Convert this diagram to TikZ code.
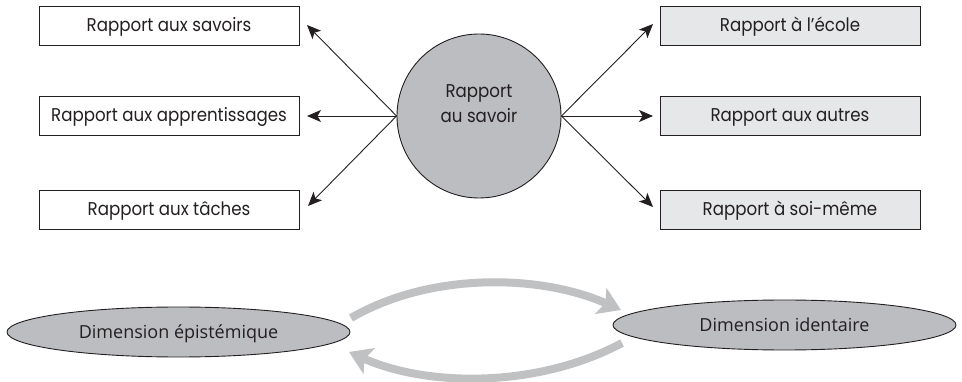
\documentclass[tikz,border=0pt]{standalone}
\usepackage{fontspec}
\setmainfont[FakeStretch=0.9]{Poppins}
\newfontfamily\dimfont{Open Sans}
\usetikzlibrary{arrows.meta,shapes.geometric}
\definecolor{ink}{HTML}{231F20}
\definecolor{hubgray}{HTML}{BCBDC0}
\definecolor{boxgray}{HTML}{E6E7E8}
\definecolor{arcgray}{HTML}{C0C1C3}
\tikzset{
  relbox/.style={draw=ink, line width=0.9pt, minimum width=260pt, minimum height=39pt,
    inner sep=0pt, text height=13pt, text depth=0pt,
    font=\fontsize{18.5}{22}\selectfont, text=ink},
  selfbox/.style={relbox, fill=boxgray},
  hub/.style={circle, draw=ink, line width=0.9pt, fill=hubgray, minimum size=164pt, inner sep=0pt},
  dimension/.style={ellipse, draw=ink, line width=0.9pt, fill=hubgray, minimum width=343pt,
    minimum height=50pt, inner sep=0pt, text height=13pt, text depth=0pt,
    font=\dimfont\fontsize{18}{22}\selectfont, text=ink},
  link/.style={draw=ink, line width=0.9pt, -{Stealth[length=14pt,width=12pt,inset=3.5pt]}},
  cycle/.style={draw=arcgray, line width=8pt, -{Stealth[length=22pt,width=28pt,inset=5pt]}}
}
\begin{document}
\begin{tikzpicture}[x=1pt,y=-1pt]
  \useasboundingbox (0,0) rectangle (962,382);

  % central hub
  \node[hub] (hub) at (479,116) {};
  \node[align=center, font=\fontsize{18.5}{25}\selectfont, text=ink, inner sep=0pt] (hubtext) at (479,104) {Rapport\\au savoir};

  % epistemic side
  \node[relbox] (savoirs) at (169,25.5) {Rapport aux savoirs};
  \node[relbox] (apprent) at (169,115.5) {Rapport aux apprentissages};
  \node[relbox] (taches)  at (169,209.5) {Rapport aux tâches};

  % identity side
  \node[selfbox] (ecole)  at (790,25.5) {Rapport à l’école};
  \node[selfbox] (autres) at (790,115.5) {Rapport aux autres};
  \node[selfbox] (soi)    at (790,209.5) {Rapport à soi-même};

  % arrow tips beside the boxes
  \coordinate (tsavoirs) at (307,25);
  \coordinate (tapprent) at (307,116);
  \coordinate (ttaches)  at (308,206);
  \coordinate (tecole)   at (653,24);
  \coordinate (tautres)  at (653,116);
  \coordinate (tsoi)     at (653,207);

  \draw[link] (hub.west) -- (tsavoirs);
  \draw[link] (hub.west) -- (tapprent);
  \draw[link] (hub.west) -- (ttaches);
  \draw[link] (hub.east) -- (tecole);
  \draw[link] (hub.east) -- (tautres);
  \draw[link] (hub.east) -- (tsoi);

  % the two dimensions
  \node[dimension] (epi) at (178.5,332) {Dimension épistémique};
  \node[dimension] (ident) at (784.5,325) {Dimension identaire};

  % cycle between them
  \coordinate (topstart) at (351,318);
  \coordinate (topend)   at (621,310);
  \coordinate (botstart) at (622,343);
  \coordinate (botend)   at (349,352);
  \draw[cycle] (topstart) .. controls (430,272) and (540,274) .. (topend);
  \draw[cycle] (botstart) .. controls (540,387) and (430,388) .. (botend);
\end{tikzpicture}
\end{document}
